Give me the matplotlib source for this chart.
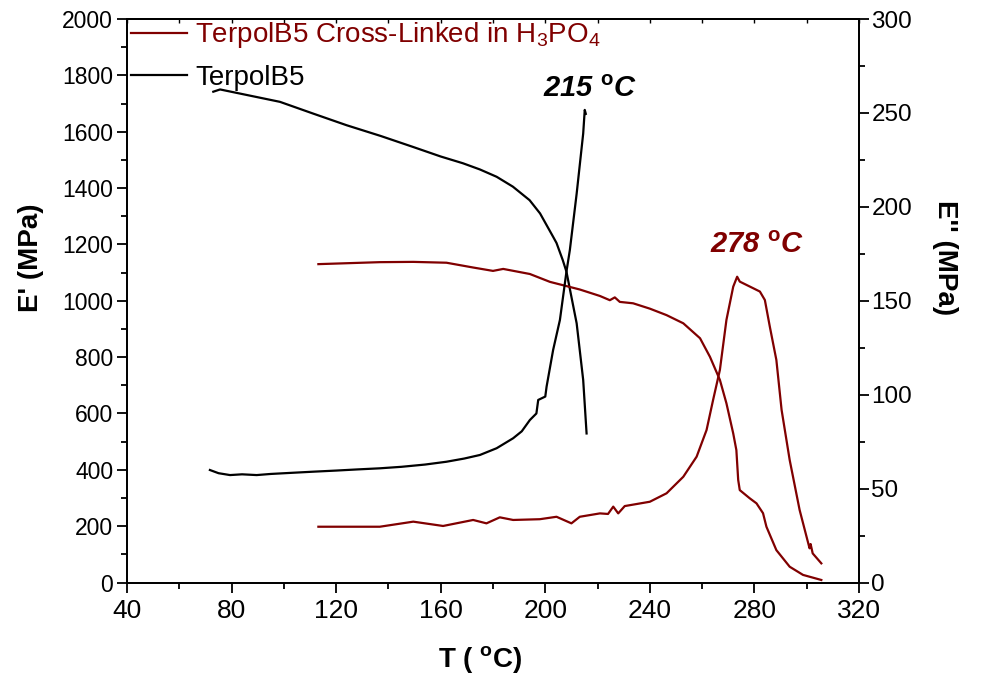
import matplotlib
matplotlib.use("Agg")
import matplotlib.pyplot as plt
from matplotlib.ticker import MultipleLocator
from matplotlib.lines import Line2D

plt.rcParams["font.family"] = ["Liberation Sans", "DejaVu Sans"]
plt.rcParams["mathtext.fontset"] = "custom"
plt.rcParams["mathtext.rm"] = "Liberation Sans"
plt.rcParams["mathtext.it"] = "Liberation Sans:italic"
plt.rcParams["mathtext.bf"] = "Liberation Sans:bold"

# TerpolB5 (neat) - storage modulus E' (left axis)
neat_T_storage = [73.0, 75.6, 86.0, 98.5, 111.0, 124.0, 137.0, 149.4, 160.0, 168.5,
                  175.0, 181.4, 187.6, 194.0, 198.0, 203.0, 204.3, 206.7, 208.1,
                  212.0, 214.5, 215.8]
neat_storage = [1742, 1750, 1730, 1706, 1665, 1623, 1585, 1546, 1512, 1488,
                1466, 1440, 1405, 1357, 1310, 1227, 1205, 1144, 1103,
                920, 719, 529]

# TerpolB5 (neat) - loss modulus E'' (right axis)
neat_T_loss = [71.7, 75.0, 79.4, 84.0, 89.6, 95.0, 103.0, 111.2, 120.0, 128.0,
               136.7, 145.0, 154.0, 162.2, 169.0, 175.0, 181.4, 187.7, 191.0,
               194.1, 196.6, 197.3, 200.0, 200.5, 203.0, 205.6, 208.1, 209.4,
               212.0, 214.5, 215.1, 215.5]
neat_loss = [59.9, 58.2, 57.2, 57.6, 57.2, 57.8, 58.4, 59.0, 59.6, 60.2,
             60.8, 61.6, 62.8, 64.3, 66.0, 67.9, 71.5, 76.8, 80.5,
             86.5, 90.0, 97.2, 99.0, 104.3, 123.8, 139.8, 165.5, 177.0,
             207.0, 239.0, 251.6, 249.5]

# TerpolB5 cross-linked in H3PO4 - storage modulus E' (left axis)
xl_T_storage = [113.2, 136.7, 149.5, 162.2, 172.4, 180.0, 183.9, 194.1, 201.8,
                213.2, 220.9, 224.7, 226.6, 228.5, 233.6, 240.0, 246.4, 252.8,
                259.2, 263.0, 266.8, 269.3, 271.9, 273.1, 273.8, 274.4, 278.2,
                280.8, 283.3, 284.6, 288.4, 293.5, 298.6, 305.6]
xl_storage = [1130, 1137, 1138, 1135, 1118, 1106, 1113, 1095, 1067,
              1040, 1017, 1002, 1012, 996, 991, 972, 949, 920,
              867, 801, 719, 636, 529, 470, 364, 328, 299,
              281, 246, 198, 115, 56, 27, 9]

# TerpolB5 cross-linked in H3PO4 - loss modulus E'' (right axis)
xl_T_loss = [113.2, 136.7, 149.5, 160.9, 172.4, 177.5, 182.6, 187.7, 197.9,
             204.3, 210.0, 213.2, 220.9, 224.0, 226.0, 227.9, 230.4, 240.0,
             246.4, 252.8, 257.9, 261.7, 264.2, 266.8, 269.3, 271.9, 273.4,
             274.4, 279.5, 282.1, 284.0, 285.9, 288.4, 290.4, 293.5, 297.3,
             301.1, 301.5, 302.3, 305.6]
xl_loss = [29.7, 29.7, 32.4, 30.1, 33.3, 31.5, 34.7, 33.3, 33.7,
           35.0, 31.5, 35.0, 36.8, 36.5, 40.4, 36.8, 40.7, 43.0,
           47.5, 56.3, 67.0, 81.2, 97.2, 113.2, 139.8, 157.5, 162.8,
           160.2, 156.7, 154.9, 150.4, 136.2, 118.5, 91.9, 65.2, 38.6,
           18.2, 20.5, 15.5, 10.2]

# Peak temperatures of E'' and where their labels sit (T, E'')
peak_labels = ["215", "278"]
peak_label_pos = [(217.0, 263.0), (281.0, 179.5)]

neat_color = "black"
xl_color = "#800000"

fig = plt.figure(figsize=(9.81, 6.79), dpi=100)
ax = fig.add_axes([0.1295, 0.1421, 0.7461, 0.8299])
ax2 = ax.twinx()

lw = 1.6
ax.plot(neat_T_storage, neat_storage, color=neat_color, lw=lw)
ax.plot(xl_T_storage, xl_storage, color=xl_color, lw=lw)
ax2.plot(neat_T_loss, neat_loss, color=neat_color, lw=lw)
ax2.plot(xl_T_loss, xl_loss, color=xl_color, lw=lw)

ax.set_xlim(40, 320)
ax.set_ylim(0, 2000)
ax2.set_ylim(0, 300)

ax.xaxis.set_major_locator(MultipleLocator(40))
ax.xaxis.set_minor_locator(MultipleLocator(20))
ax.yaxis.set_major_locator(MultipleLocator(200))
ax.yaxis.set_minor_locator(MultipleLocator(100))
ax2.yaxis.set_major_locator(MultipleLocator(50))
ax2.yaxis.set_minor_locator(MultipleLocator(25))

for a in (ax, ax2):
    for s in a.spines.values():
        s.set_linewidth(1.3)

ax.tick_params(axis="x", which="both", direction="out", top=False,
               labelsize=19, width=1.3, pad=5)
ax.tick_params(axis="x", which="major", length=7)
ax.tick_params(axis="x", which="minor", length=4)
ax.tick_params(axis="y", which="both", direction="out", labelsize=16.5, width=1.3, pad=3)
ax.tick_params(axis="y", which="major", length=7)
ax.tick_params(axis="y", which="minor", length=4)
ax2.tick_params(axis="y", which="both", direction="out", labelsize=17.5, width=1.3, pad=2)
ax2.tick_params(axis="y", which="major", length=7)
ax2.tick_params(axis="y", which="minor", length=4)

# short inward ticks along the top edge
topax = ax.secondary_xaxis("top")
topax.xaxis.set_major_locator(MultipleLocator(20))
topax.tick_params(direction="in", length=3, width=1.0, labeltop=False)
topax.spines["top"].set_linewidth(1.3)

ax.set_xlabel("T ( $^{\\mathbf{o}}$C)", fontsize=20, fontweight="bold")
ax.xaxis.set_label_coords(0.482, -0.11)
ax.set_ylabel("E' (MPa)", fontsize=20, fontweight="bold")
ax.yaxis.set_label_coords(-0.113, 0.576)
ax2.set_ylabel("E'' (MPa)", fontsize=20, fontweight="bold", rotation=270)
ax2.yaxis.set_label_coords(1.135, 0.576)

for txt, (tx, ty), col in zip(peak_labels, peak_label_pos, [neat_color, xl_color]):
    ax2.text(tx, ty, txt + " $^{\\mathbf{o}}$C", fontsize=21, fontweight="bold",
             style="italic", color=col, ha="center", va="center")

handles = [Line2D([], [], color=xl_color, lw=lw),
           Line2D([], [], color=neat_color, lw=lw)]
labels = ["TerpolB5 Cross-Linked in H$_3$PO$_4$", "TerpolB5"]
leg = ax2.legend(handles, labels, loc="upper left", bbox_to_anchor=(0.004, 1.0),
                 frameon=False, fontsize=20, handlelength=2.0, handletextpad=0.3,
                 labelspacing=0.53, borderaxespad=0.0, borderpad=0.05)
for txt, col in zip(leg.get_texts(), [xl_color, neat_color]):
    txt.set_color(col)

fig.savefig("out.png", dpi=100)
